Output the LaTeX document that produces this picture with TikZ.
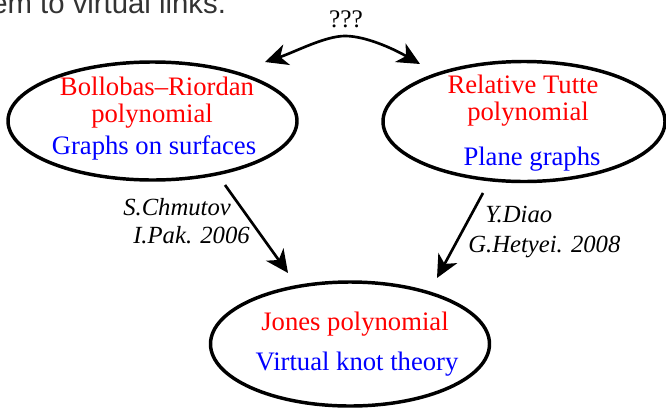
\documentclass[tikz,border=0pt]{standalone}
\usepackage{fontspec}
\setmainfont{Liberation Serif}
\newfontfamily\slidefont{Liberation Sans}
\usetikzlibrary{arrows.meta,shapes.geometric}

\begin{document}
\begin{tikzpicture}[x=0.75pt,y=-0.75pt,
      oval/.style={draw,ellipse,line width=2.6pt,inner sep=0pt},
      title/.style={text=red,anchor=base,inner sep=0pt,font=\fontsize{20}{24}\selectfont},
      area/.style={text=blue,anchor=base,inner sep=0pt,font=\fontsize{20}{24}\selectfont},
      who/.style={anchor=base west,inner sep=0pt,font=\fontsize{18.5}{22}\selectfont\itshape},
      tip/.tip={Stealth[length=17pt,width=16pt,inset=5pt]},
      link/.style={-tip,line width=2pt}]
    \path[use as bounding box,clip] (0,0) rectangle (666,407);
    \node[anchor=base west,inner sep=0pt,text=black!80,font=\slidefont\fontsize{22}{26}\selectfont] (head) at (-9,13) {em to virtual links.};
    \node[oval,minimum width=216.75pt,minimum height=88.5pt] (br) at (152.5,121) {};
    \node[oval,minimum width=211.5pt,minimum height=90pt] (rt) at (524,121.5) {};
    \node[oval,minimum width=209.25pt,minimum height=93pt] (jones) at (350,344) {};
    \node[title] (brName) at (157,95) {Bollobas--Riordan};
    \node[title] (brPoly) at (152,122) {polynomial};
    \node[area] (brArea) at (154,154) {Graphs on surfaces};
    \node[title] (rtName) at (523,93) {Relative Tutte};
    \node[title] (rtPoly) at (528,120) {polynomial};
    \node[area] (rtArea) at (532,165) {Plane graphs};
    \node[title] (jonesName) at (355,330) {Jones polynomial};
    \node[area] (jonesArea) at (357,370) {Virtual knot theory};
    \node[anchor=base,inner sep=0pt,font=\fontsize{19}{22}\selectfont] (ask) at (346,27) {???};
    \node[who] (chmutov) at (123,215) {S.Chmutov};
    \node[who] (pak) at (133,243) {I.Pak. 2006};
    \node[who] (diao) at (485,222) {Y.Diao};
    \node[who] (hetyei) at (468,252) {G.Hetyei. 2008};
    \coordinate (brTop) at (265,62);
    \coordinate (rtTop) at (420,64);
    \coordinate (brOut) at (225,185);
    \coordinate (rtOut) at (483,193);
    \coordinate (jonesL) at (288,273);
    \coordinate (jonesR) at (437,278);
    \draw[link,tip-tip]
      (brTop) .. controls (295,52) and (325,36) .. (345,36)
              .. controls (365,36) and (392,48) .. (rtTop);
    \draw[link] (brOut) -- (jonesL);
    \draw[link] (rtOut) -- (jonesR);
  \end{tikzpicture}
\end{document}
